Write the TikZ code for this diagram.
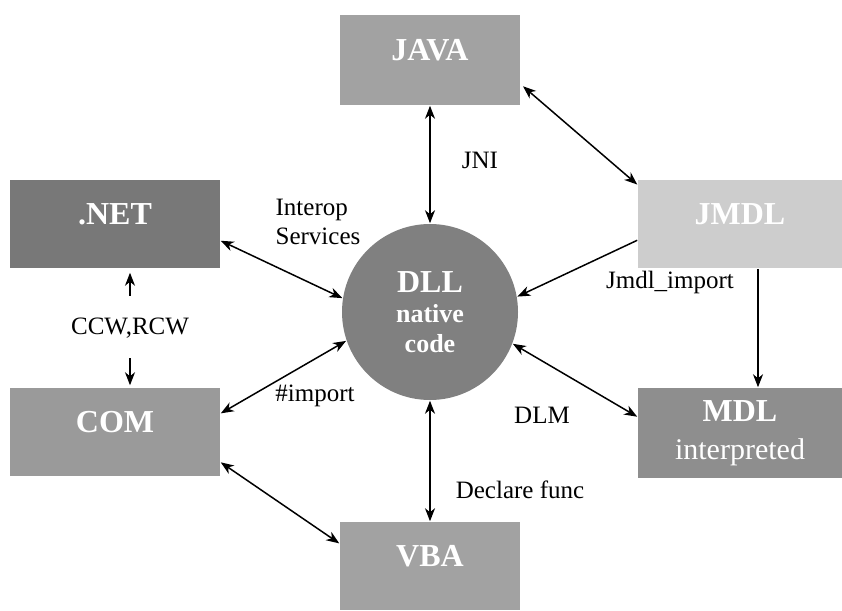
\documentclass[tikz,border=0pt]{standalone}
\usepackage{fontspec}
\setmainfont{Liberation Serif}
\usetikzlibrary{arrows.meta}
\definecolor{javagray}{HTML}{A2A2A2}
\definecolor{jmdlgray}{HTML}{CDCDCD}
\definecolor{netgray}{HTML}{787878}
\definecolor{comgray}{HTML}{9A9A9A}
\definecolor{mdlgray}{HTML}{8E8E8E}
\definecolor{dllgray}{HTML}{808080}
\begin{document}
\begin{tikzpicture}[x=1pt, y=-1pt, line width=1.5pt,
  >={Stealth[length=13pt,width=10pt,inset=4pt]},
  boxbase/.style={rectangle, inner sep=0pt, text=white},
  box/.style={boxbase, font=\fontsize{32}{34}\selectfont\bfseries, text height=22pt, text depth=22pt},
  lbl/.style={font=\fontsize{25}{29}\selectfont}]
\useasboundingbox (0,0) rectangle (842,610);
% boxes
\node[box, fill=javagray, minimum width=180pt, minimum height=90pt] (java) at (430,60) {JAVA};
\node[box, fill=jmdlgray, minimum width=204pt, minimum height=88pt] (jmdl) at (740,224) {JMDL};
\node[box, fill=netgray, minimum width=210pt, minimum height=88pt] (net) at (115,224) {.NET};
\node[box, fill=comgray, minimum width=210pt, minimum height=88pt] (com) at (115,432) {COM};
\node[boxbase, fill=mdlgray, minimum width=204pt, minimum height=90pt, align=center,
  font=\fontsize{30}{38}\selectfont] (mdl) at (740,433)
  {{\fontsize{32}{38}\selectfont\bfseries MDL}\\interpreted};
\node[box, fill=javagray, minimum width=180pt, minimum height=88pt] (vba) at (430,566) {VBA};
\node[circle, fill=dllgray, minimum size=176pt, inner sep=0pt, text=white, align=center,
  font=\fontsize{26}{30}\selectfont\bfseries] (dll) at (430,312)
  {{\fontsize{32}{32}\selectfont DLL}\\native\\code};
% labels
\node[lbl] (jni) at (480,160) {JNI};
\node[lbl, align=left] (interop) at (318,222) {Interop\\Services};
\node[lbl] (imp) at (315,396) {\#import};
\node[lbl] (jmdlimp) at (670,282) {Jmdl\_import};
\node[lbl] (dlm) at (542,415) {DLM};
\node[lbl] (decl) at (520,490) {Declare func};
\node[lbl] (ccw) at (130,328) {CCW,RCW};
% connections
\draw[<->] (java.south) -- (dll.north);
\draw[<->, shorten <=3pt] (java.-15) -- (jmdl.159);
\draw[->] (jmdl.189) -- (dll.10);
\draw[->] ([xshift=18pt]jmdl.south) -- ([xshift=18pt]mdl.north);
\draw[<->] (dll.-21) -- (mdl.171);
\draw[<->] (dll.south) -- (vba.north);
\draw[<->] (com.-16) -- (vba.166);
\draw[<->] (com.10) -- (dll.199);
\draw[<->] (net.-9) -- (dll.171);
\draw[->, shorten <=18pt, shorten >=4pt] (ccw) -- (ccw |- net.south);
\draw[->, shorten <=16pt, shorten >=2pt] (ccw) -- (ccw |- com.north);
\end{tikzpicture}
\end{document}
